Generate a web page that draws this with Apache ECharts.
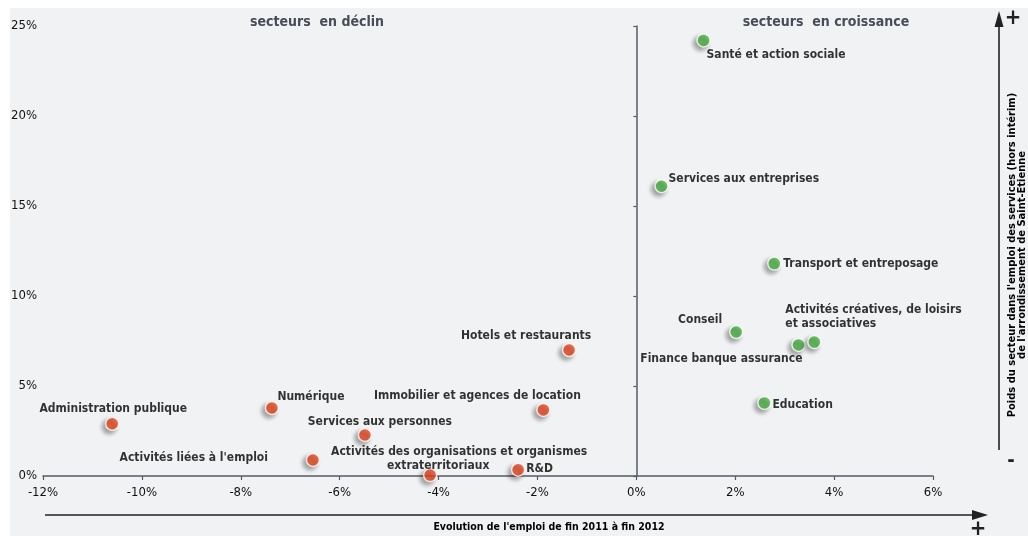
<!DOCTYPE html>
<html>
<head>
<meta charset="utf-8">
<script src="https://cdn.jsdelivr.net/npm/echarts@6/dist/echarts.min.js"></script>
<style>
html,body{margin:0;padding:0;background:#fff;}
#c{width:1028px;height:536px;}
</style>
</head>
<body>
<div id="c"></div>
<script>
// ---- data ----
var declineNames = ['Administration publique', 'Numérique', 'Services aux personnes', "Activités liées à l'emploi",
  'Activités des organisations et organismes|extraterritoriaux', 'R&D', 'Immobilier et agences de location', 'Hotels et restaurants'];
var declineX = [-10.6, -7.37, -5.49, -6.54, -4.17, -2.39, -1.88, -1.36];
var declineY = [2.9, 3.78, 2.28, 0.89, 0.05, 0.35, 3.67, 7.0];

var growthNames = ['Santé et action sociale', 'Services aux entreprises', 'Transport et entreposage', 'Conseil',
  'Finance banque assurance', 'Activités créatives, de loisirs|et associatives', 'Education'];
var growthX = [1.36, 0.51, 2.79, 2.02, 3.28, 3.6, 2.59];
var growthY = [24.2, 16.1, 11.8, 8.0, 7.28, 7.44, 4.06];

var xTicks = [-12, -10, -8, -6, -4, -2, 0, 2, 4, 6];
var yTicks = [0, 5, 10, 15, 20, 25];

// ---- label styles (placement relative to the point) ----
var declineLabelStyle = [
  {align: 'center', offset: [1, -15]},
  {align: 'center', offset: [39, -11]},
  {align: 'center', offset: [15, -13]},
  {align: 'right', offset: [-45, -2]},
  {align: 'center', offset: [29, -16], two: 'shiftLeft'},
  {align: 'left', offset: [8, -1]},
  {align: 'center', offset: [-66, -14]},
  {align: 'center', offset: [-43, -14]}
];
var growthLabelStyle = [
  {align: 'left', offset: [3, 14]},
  {align: 'left', offset: [7, -7]},
  {align: 'left', offset: [9, 0]},
  {align: 'right', offset: [-14, -12]},
  {align: 'right', offset: [4, 14]},
  {align: 'left', offset: [-29, -25]},
  {align: 'left', offset: [8, 2]}
];

var FONT = "'DejaVu Sans Condensed', 'Liberation Sans Narrow', sans-serif";

function buildData(names, xs, ys, styles) {
  return names.map(function (n, i) {
    var st = styles[i];
    var parts = n.split('|');
    var fmt;
    if (parts.length === 1) {
      fmt = '{a|' + n + '}';
    } else if (st.two === 'shiftLeft') {
      fmt = '{a|' + parts[0] + '}\n{b|' + parts[1] + '}';
    } else {
      fmt = '{a|' + parts[0] + '}\n{a|' + parts[1] + '}';
    }
    return {
      name: n.replace('|', ' '),
      value: [xs[i], ys[i]],
      label: {
        show: true,
        position: 'inside',
        align: st.align,
        verticalAlign: 'middle',
        offset: st.offset,
        formatter: fmt,
        rich: {
          a: {fontFamily: FONT, fontWeight: 'bold', fontSize: 12, color: '#000', lineHeight: 14},
          b: {fontFamily: FONT, fontWeight: 'bold', fontSize: 12, color: '#000', lineHeight: 14, padding: [0, 42, 0, 0]}
        }
      }
    };
  });
}

var symbolStyle = function (color) {
  return {
    color: color,
    borderColor: '#fff',
    borderWidth: 1.5,
    shadowBlur: 4,
    shadowColor: 'rgba(0,0,0,0.4)',
    shadowOffsetX: -3,
    shadowOffsetY: 3
  };
};

var chart = echarts.init(document.getElementById('c'), null, {renderer: 'canvas'});

var option = {
  backgroundColor: '#fff',
  animation: false,
  textStyle: {fontFamily: FONT},
  grid: {left: 43, right: 95, top: 26, bottom: 60, containLabel: false},
  xAxis: {
    type: 'value',
    min: xTicks[0],
    max: xTicks[xTicks.length - 1],
    interval: 2,
    splitLine: {show: false},
    axisLine: {show: true, onZero: true, lineStyle: {color: '#555b66', width: 1.5}},
    axisTick: {show: true, length: 4, lineStyle: {color: '#555b66', width: 1.2}},
    axisLabel: {formatter: '{value}%', fontFamily: FONT, fontSize: 13, color: '#111', margin: 10}
  },
  yAxis: [{
    type: 'value',
    position: 'left',
    min: yTicks[0],
    max: yTicks[yTicks.length - 1],
    interval: 5,
    splitLine: {show: false},
    axisLine: {show: false, onZero: false},
    axisTick: {show: false},
    axisLabel: {formatter: '{value}%', fontFamily: FONT, fontSize: 13, color: '#111', margin: 6}
  }, {
    type: 'value',
    position: 'left',
    min: yTicks[0],
    max: yTicks[yTicks.length - 1],
    interval: 5,
    splitLine: {show: false},
    axisLine: {show: true, onZero: true, lineStyle: {color: '#555b66', width: 1.5}},
    axisTick: {show: true, length: 3, lineStyle: {color: '#555b66', width: 1.2}},
    axisLabel: {show: false}
  }],
  graphic: [
    {type: 'rect', silent: true, z: -10, shape: {x: 10, y: 8, width: 1018, height: 528}, style: {fill: '#f1f2f4'}},
    {type: 'text', x: 317, y: 22, style: {text: 'secteurs  en déclin', font: 'bold 14px ' + FONT, fill: '#474c57', align: 'center', verticalAlign: 'middle'}},
    {type: 'text', x: 826, y: 22, style: {text: 'secteurs  en croissance', font: 'bold 14px ' + FONT, fill: '#474c57', align: 'center', verticalAlign: 'middle'}},
    // bottom arrow
    {type: 'line', shape: {x1: 45, y1: 515, x2: 976, y2: 515}, style: {stroke: '#222', lineWidth: 1.6}},
    {type: 'polygon', shape: {points: [[972, 510], [988, 515], [972, 520]]}, style: {fill: '#222'}},
    {type: 'text', x: 978, y: 529, style: {text: '+', font: 'bold 22px ' + FONT, fill: '#222', align: 'center', verticalAlign: 'middle'}},
    {type: 'text', x: 549, y: 527, style: {text: "Evolution de l'emploi de fin 2011 à fin 2012", font: 'bold 10.5px ' + FONT, fill: '#000', align: 'center', verticalAlign: 'middle'}},
    // right arrow
    {type: 'line', shape: {x1: 999, y1: 450, x2: 999, y2: 22}, style: {stroke: '#222', lineWidth: 1.6}},
    {type: 'polygon', shape: {points: [[994.5, 27], [999, 11], [1003.5, 27]]}, style: {fill: '#222'}},
    {type: 'text', x: 1013, y: 18, style: {text: '+', font: 'bold 22px ' + FONT, fill: '#222', align: 'center', verticalAlign: 'middle'}},
    {type: 'text', x: 1011, y: 461, style: {text: '-', font: 'bold 20px ' + FONT, fill: '#222', align: 'center', verticalAlign: 'middle'}},
    {type: 'text', x: 1017, y: 255, rotation: Math.PI / 2,
      style: {text: "Poids du secteur dans l'emploi des services (hors intérim)\nde l'arrondissement de Saint-Etienne",
        font: 'bold 11px ' + FONT, fill: '#000', align: 'center', verticalAlign: 'middle', lineHeight: 10}}
  ],
  series: [{
    name: 'déclin',
    type: 'scatter',
    yAxisIndex: 0,
    symbol: 'circle',
    symbolSize: 13,
    itemStyle: symbolStyle('#ef4a24'),
    data: buildData(declineNames, declineX, declineY, declineLabelStyle)
  }, {
    name: 'croissance',
    type: 'scatter',
    yAxisIndex: 0,
    symbol: 'circle',
    symbolSize: 13,
    itemStyle: symbolStyle('#4db848'),
    data: buildData(growthNames, growthX, growthY, growthLabelStyle)
  }]
};
chart.setOption(option);
</script>
</body>
</html>
